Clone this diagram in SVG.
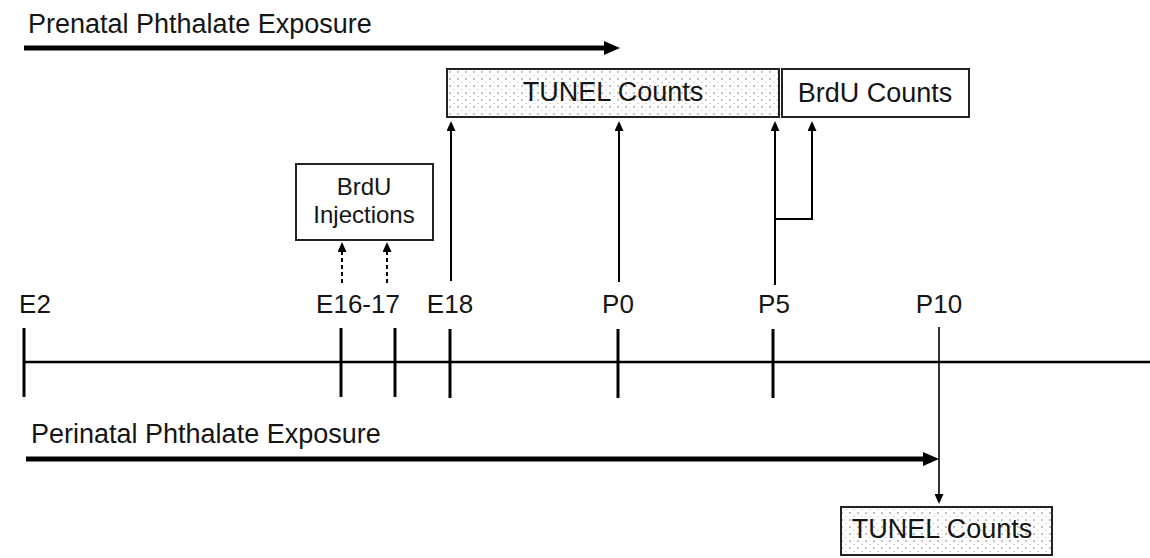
<svg xmlns="http://www.w3.org/2000/svg" width="1150" height="558" viewBox="0 0 1150 558">
  <defs>
    <pattern id="dots" patternUnits="userSpaceOnUse" width="8" height="7">
      <rect width="8" height="7" fill="#ffffff"/>
      <circle cx="2" cy="2" r="0.8" fill="#777"/>
      <circle cx="6" cy="5.5" r="0.6" fill="#a0a0a0"/>
    </pattern>
    <marker id="thick" markerUnits="userSpaceOnUse" viewBox="0 0 16 14" markerWidth="16" markerHeight="14" refX="0" refY="7" orient="auto">
      <path d="M0,0 L16,7 L0,14 z" fill="#000"/>
    </marker>
    <marker id="thin" markerUnits="userSpaceOnUse" viewBox="0 0 10 9" markerWidth="10" markerHeight="9" refX="0" refY="4.5" orient="auto">
      <path d="M0,0 L10,4.5 L0,9 z" fill="#000"/>
    </marker>
  </defs>
  <style>
    text { font-family: "Liberation Sans", Arial, sans-serif; fill: #151515; }
    .big { font-size: 27px; }
    .lbl { font-size: 26px; text-anchor: middle; }
    .box { stroke: #222; stroke-width: 2; }
    .axis { stroke: #000; stroke-width: 2.5; fill: none; }
    .tick { stroke: #000; stroke-width: 3; }
    .thickarrow { stroke: #000; stroke-width: 5; fill: none; marker-end: url(#thick); }
    .arrow { stroke: #000; stroke-width: 2; fill: none; marker-end: url(#thin); }
    .dash { stroke: #000; stroke-width: 2; stroke-dasharray: 4 3; fill: none; marker-end: url(#thin); }
  </style>

  <g id="timeline">
    <line class="axis" x1="24" y1="362" x2="1150" y2="362"/>
    <line class="tick" x1="24" y1="328" x2="24" y2="397"/>
    <line class="tick" x1="341" y1="328" x2="341" y2="397"/>
    <line class="tick" x1="395" y1="328" x2="395" y2="397"/>
    <line class="tick" x1="450" y1="329" x2="450" y2="398"/>
    <line class="tick" x1="618" y1="329" x2="618" y2="398"/>
    <line class="tick" x1="773" y1="329" x2="773" y2="398"/>
    <text class="lbl" x="35" y="313">E2</text>
    <text class="lbl" x="358" y="313">E16-17</text>
    <text class="lbl" x="450" y="313">E18</text>
    <text class="lbl" x="618" y="313">P0</text>
    <text class="lbl" x="774" y="313">P5</text>
    <text class="lbl" x="939" y="313">P10</text>
  </g>

  <g id="prenatal">
    <text class="big" x="28" y="33">Prenatal Phthalate Exposure</text>
  </g>
  <g id="perinatal">
    <text class="big" x="31" y="443">Perinatal Phthalate Exposure</text>
  </g>

  <g id="tunel-top">
    <rect class="box" x="447" y="69" width="332" height="48" fill="url(#dots)"/>
    <text class="big" x="613" y="101" text-anchor="middle">TUNEL Counts</text>
  </g>
  <g id="brdu-counts">
    <rect class="box" x="782" y="69" width="187" height="48" fill="#fff"/>
    <text class="big" x="875" y="102" text-anchor="middle">BrdU Counts</text>
  </g>
  <g id="brdu-injections">
    <rect class="box" x="296" y="164" width="137" height="76" fill="#fff"/>
    <text x="364" y="195" text-anchor="middle" font-size="24">BrdU</text>
    <text x="364" y="223" text-anchor="middle" font-size="24">Injections</text>
  </g>
  <g id="tunel-bottom">
    <rect class="box" x="841" y="507" width="211" height="48" fill="url(#dots)"/>
    <text class="big" x="942" y="538" text-anchor="middle">TUNEL Counts</text>
  </g>

  <g id="connectors">
    <line class="thickarrow" x1="24" y1="48" x2="604" y2="48"/>
    <line class="thickarrow" x1="26" y1="459" x2="923" y2="459"/>
    <line class="arrow" x1="451" y1="281" x2="451" y2="131"/>
    <line class="arrow" x1="619" y1="282" x2="619" y2="131"/>
    <line class="arrow" x1="775" y1="285" x2="775" y2="131"/>
    <polyline class="arrow" points="775,219 812,219 812,131"/>
    <line class="dash" x1="342" y1="283" x2="342" y2="252"/>
    <line class="dash" x1="387" y1="283" x2="387" y2="252"/>
    <line stroke="#000" stroke-width="1.6" x1="939" y1="327" x2="939" y2="494" marker-end="url(#thin)"/>
  </g>
</svg>
